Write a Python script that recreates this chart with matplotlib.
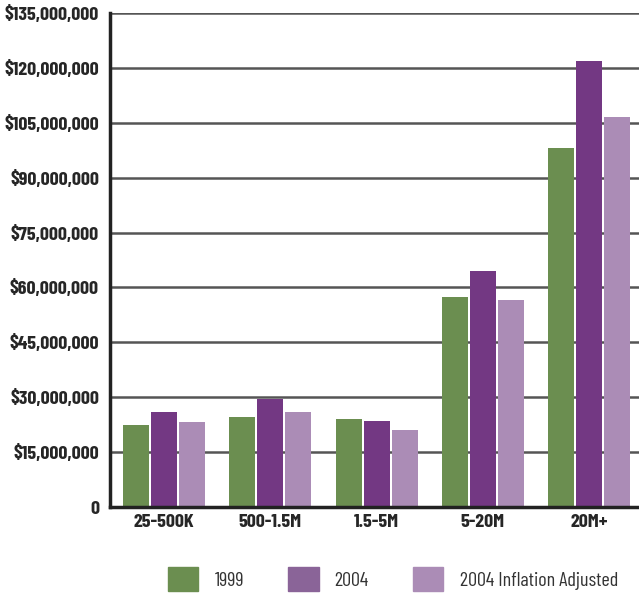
import matplotlib.pyplot as plt
from matplotlib.patches import Patch
from matplotlib.ticker import FuncFormatter
import numpy as np

categories = ['25-500K', '500-1.5M', '1.5-5M', '5-20M', '20M+']
v1999 = [22.4e6, 24.7e6, 24.1e6, 57.4e6, 98.0e6]
v2004 = [26.0e6, 29.5e6, 23.6e6, 64.6e6, 121.8e6]
v2004_adj = [23.1e6, 26.0e6, 21.0e6, 56.6e6, 106.5e6]
series_names = ['1999', '2004', '2004 Inflation Adjusted']
bar_colors = ['#6b8e50', '#733883', '#ab8cb6']
legend_colors = ['#6b8e50', '#8a6498', '#ab8cb6']
yticks = np.arange(0, 135e6 + 1, 15e6)

plt.rcParams['font.family'] = ['Barlow Condensed', 'DejaVu Sans']

fig = plt.figure(figsize=(6.39, 5.95), dpi=100)
ax = fig.add_axes([110/639, 1 - 507/595, 1 - 110/639, (507 - 13)/595])

x = np.arange(len(categories))
w = 0.245
step = 0.2635
for i, vals in enumerate([v1999, v2004, v2004_adj]):
    ax.bar(x + (i - 1)*step, vals, width=w, color=bar_colors[i], zorder=3)

ax.set_xlim(-0.51, 4.47)
ax.set_ylim(0, 135e6)
ax.set_yticks(yticks)
ax.yaxis.set_major_formatter(FuncFormatter(lambda v, p: '0' if v == 0 else '${:,.0f}'.format(v)))
ax.set_xticks(x)
ax.set_xticklabels(categories)
ax.grid(axis='y', color='#555555', lw=1.8, zorder=1)
ax.tick_params(length=0, labelsize=14.3, colors='#262626')
ax.tick_params(axis='y', pad=8)
ax.tick_params(axis='x', pad=5)
for lbl in ax.get_xticklabels() + ax.get_yticklabels():
    lbl.set_fontweight('bold')

for s in ['top', 'right']:
    ax.spines[s].set_visible(False)
for s in ['left', 'bottom']:
    ax.spines[s].set_linewidth(2.5)
    ax.spines[s].set_color('#222222')
    ax.spines[s].set_zorder(4)

handles = [Patch(color=c) for c in legend_colors]
fig.legend(handles, series_names, loc='center', bbox_to_anchor=(0.615, 1 - 579/595),
           ncol=3, frameon=False, fontsize=14.5, handlelength=1.5, handleheight=1.5,
           handletextpad=0.8, columnspacing=2.2, labelcolor='#333333')

fig.savefig('out.png', dpi=100)
